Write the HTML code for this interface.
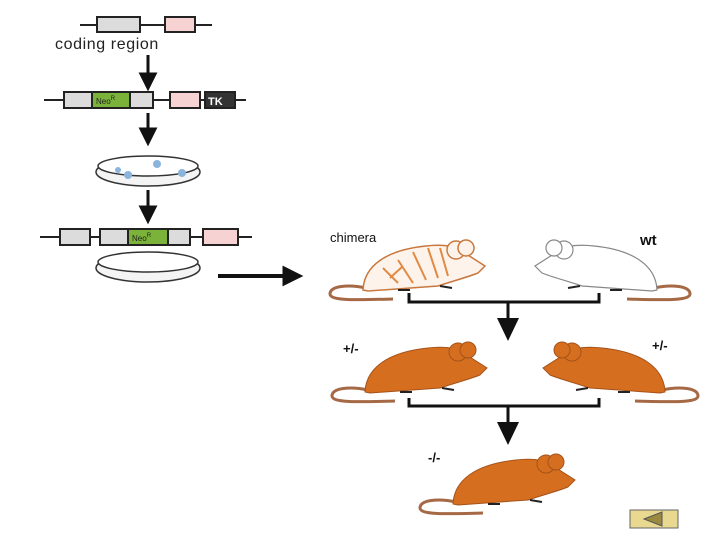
<!DOCTYPE html><html><head><style>body{margin:0;background:#fff}svg{display:block}</style></head><body>
<svg width="720" height="540" viewBox="0 0 720 540" font-family="Liberation Sans, sans-serif">
<defs>
<g id="m">
<path d="M38,50 C20,46 2,48 2,56 C2,63 30,62 65,61" fill="none" stroke="#a56a45" stroke-width="3"/>
<path d="M35,52 C36,28 58,12 98,8 C115,6 125,8 132,12 L157,28 L150,35 C140,39 125,43 110,48 L40,53 Z"/>
<circle cx="128" cy="12" r="9"/><circle cx="138" cy="10" r="8"/>
<path d="M70,52 L82,52 M112,48 L124,50" stroke="#222" stroke-width="2"/>
</g>
</defs>
<g stroke="#222" stroke-width="2">
<line x1="80" y1="25" x2="212" y2="25"/>
<rect x="97" y="17" width="43" height="15" fill="#dcdcdc"/><rect x="165" y="17" width="30" height="15" fill="#f6d2d2"/>
<line x1="44" y1="100" x2="246" y2="100"/>
<rect x="64" y="92" width="89" height="16" fill="#dcdcdc"/><rect x="92" y="92" width="38" height="16" fill="#7bb33a"/>
<rect x="170" y="92" width="30" height="16" fill="#f6d2d2"/><rect x="205" y="92" width="30" height="16" fill="#333"/>
<line x1="40" y1="237" x2="252" y2="237"/>
<rect x="60" y="229" width="30" height="16" fill="#dcdcdc"/><rect x="100" y="229" width="90" height="16" fill="#dcdcdc"/>
<rect x="128" y="229" width="40" height="16" fill="#7bb33a"/><rect x="203" y="229" width="35" height="16" fill="#f6d2d2"/>
</g>
<text x="55" y="49" font-size="16" letter-spacing="0.6" fill="#222">coding region</text>
<text x="96" y="104" font-size="8" fill="#222">Neo<tspan font-size="6" dy="-4">R</tspan></text>
<text x="208" y="105" font-size="11" font-weight="bold" fill="#fff">TK</text>
<text x="132" y="241" font-size="8" fill="#222">Neo<tspan font-size="6" dy="-4">R</tspan></text>
<g fill="#111" stroke="#111" stroke-width="3">
<line x1="148" y1="55" x2="148" y2="75"/><path d="M141,74 L155,74 L148,88 Z"/>
<line x1="148" y1="113" x2="148" y2="130"/><path d="M141,129 L155,129 L148,143 Z"/>
<line x1="148" y1="190" x2="148" y2="208"/><path d="M141,207 L155,207 L148,221 Z"/>
<line x1="218" y1="276" x2="285" y2="276" stroke-width="4"/><path d="M284,268 L300,276 L284,284 Z"/>
</g>
<g stroke="#333" stroke-width="1.5" fill="#f4f4f4">
<ellipse cx="148" cy="172" rx="52" ry="14"/><ellipse cx="148" cy="166" rx="50" ry="10" fill="#fff"/>
<ellipse cx="148" cy="268" rx="52" ry="14"/><ellipse cx="148" cy="262" rx="50" ry="10" fill="#fff"/>
</g>
<g fill="#8ab4dc"><circle cx="128" cy="175" r="4"/><circle cx="157" cy="164" r="4"/><circle cx="182" cy="173" r="4"/><circle cx="118" cy="170" r="3"/></g>
<g transform="translate(328,238)" fill="#fdf3ea" stroke="#c8783e" stroke-width="1.5"><use href="#m"/></g>
<g transform="translate(328,238)" stroke="#e08a45" stroke-width="2" fill="none"><path d="M55,30 L70,45 M70,22 L85,45 M85,14 L98,42 M100,10 L110,40 M112,10 L120,38 M62,40 L75,28"/></g>
<g transform="translate(692,238) scale(-1,1)" fill="#fff" stroke="#888" stroke-width="1.2"><use href="#m"/></g>
<g transform="translate(330,340)" fill="#d56f1f" stroke="#a5521a" stroke-width="1"><use href="#m"/></g>
<g transform="translate(700,340) scale(-1,1)" fill="#d56f1f" stroke="#a5521a" stroke-width="1"><use href="#m"/></g>
<g transform="translate(418,452)" fill="#d56f1f" stroke="#a5521a" stroke-width="1"><use href="#m"/></g>
<g stroke="#111" stroke-width="3" fill="none">
<path d="M409,293 V302 H599 V293"/><line x1="508" y1="302" x2="508" y2="320"/>
<path d="M409,398 V406 H599 V398"/><line x1="508" y1="406" x2="508" y2="424"/>
</g>
<path d="M497,318 L519,318 L508,341 Z M497,422 L519,422 L508,445 Z" fill="#111"/>
<g font-size="13" font-weight="bold" fill="#111">
<text x="330" y="242" font-weight="normal">chimera</text>
<text x="640" y="245" font-size="15">wt</text>
<text x="343" y="353">+/-</text><text x="652" y="350">+/-</text><text x="428" y="462">-/-</text>
</g>
<rect x="630" y="510" width="48" height="18" fill="#e8d890" stroke="#666"/>
<path d="M644,519 L662,512 L662,526 Z" fill="#9a8a40" stroke="#555"/>
</svg>
</body></html>
